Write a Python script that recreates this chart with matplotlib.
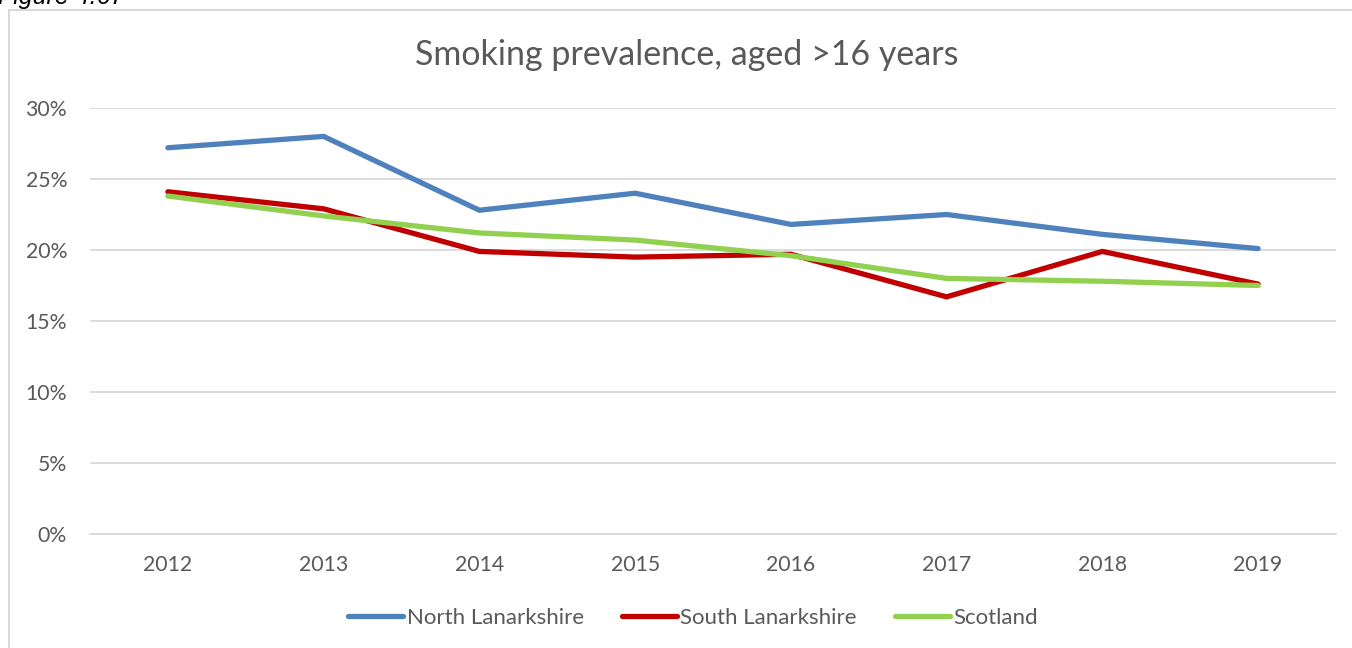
import matplotlib
matplotlib.use("Agg")
import matplotlib.pyplot as plt
from matplotlib.patches import Rectangle
from matplotlib.ticker import FuncFormatter

years = ["2012", "2013", "2014", "2015", "2016", "2017", "2018", "2019"]
north_lanarkshire = [27.2, 28.0, 22.8, 24.0, 21.8, 22.5, 21.1, 20.1]
south_lanarkshire = [24.1, 22.9, 19.9, 19.5, 19.7, 16.7, 19.9, 17.6]
scotland = [23.8, 22.4, 21.2, 20.7, 19.6, 18.0, 17.8, 17.5]
y_ticks = [0, 5, 10, 15, 20, 25, 30]

text_color = "#595959"
grid_color = "#d9d9d9"
plt.rcParams["font.family"] = ["Lato", "DejaVu Sans"]

fig = plt.figure(figsize=(13.52, 6.48), dpi=100)
W, H = 1352, 648

# chart frame (clipped on the right and bottom)
fig.patches.append(Rectangle((9 / W, -0.1), 1.2, 1 - 10 / H + 0.1,
                             transform=fig.transFigure, fill=False,
                             edgecolor=grid_color, linewidth=1.5))
fig.text(-2 / W, 1 - 4 / H, "Figure 4.67", fontsize=18, style="italic",
         family=["Liberation Sans", "DejaVu Sans"],
         color="black", ha="left", va="baseline")

ax = fig.add_axes([90 / W, (648 - 534) / H, (1336 - 90) / W, (534 - 108) / H])
x = range(len(years))
line_kw = dict(lw=3.8, solid_capstyle="round", solid_joinstyle="miter")
ax.plot(x, north_lanarkshire, color="#4f81bd", label="North Lanarkshire", **line_kw)
ax.plot(x, south_lanarkshire, color="#c00000", label="South Lanarkshire", **line_kw)
ax.plot(x, scotland, color="#92d050", label="Scotland", **line_kw)

ax.set_xlim(-0.5, len(years) - 0.5)
ax.set_ylim(0, 30)
ax.set_yticks(y_ticks)
ax.yaxis.set_major_formatter(FuncFormatter(lambda v, p: f"{v:.0f}%"))
ax.set_xticks(list(x))
ax.set_xticklabels(years)
ax.grid(axis="y", color=grid_color, linewidth=1.3)
ax.set_axisbelow(True)
for s in ["top", "right", "left"]:
    ax.spines[s].set_visible(False)
ax.spines["bottom"].set_color(grid_color)
ax.spines["bottom"].set_linewidth(1.3)
ax.tick_params(axis="both", length=0, labelsize=15.3, colors=text_color)
ax.tick_params(axis="y", pad=16.5)
ax.tick_params(axis="x", pad=15)

fig.text(687 / W, 1 - 55 / H, "Smoking prevalence, aged >16 years",
         fontsize=24.5, color=text_color, ha="center", va="center")

fig.legend(loc="center", bbox_to_anchor=(693 / W, 1 - 618 / H), ncol=3,
           frameon=False, fontsize=16, labelcolor=text_color,
           handlelength=2.5, handletextpad=0.15, columnspacing=1.7)

fig.savefig("out.png", dpi=100)
